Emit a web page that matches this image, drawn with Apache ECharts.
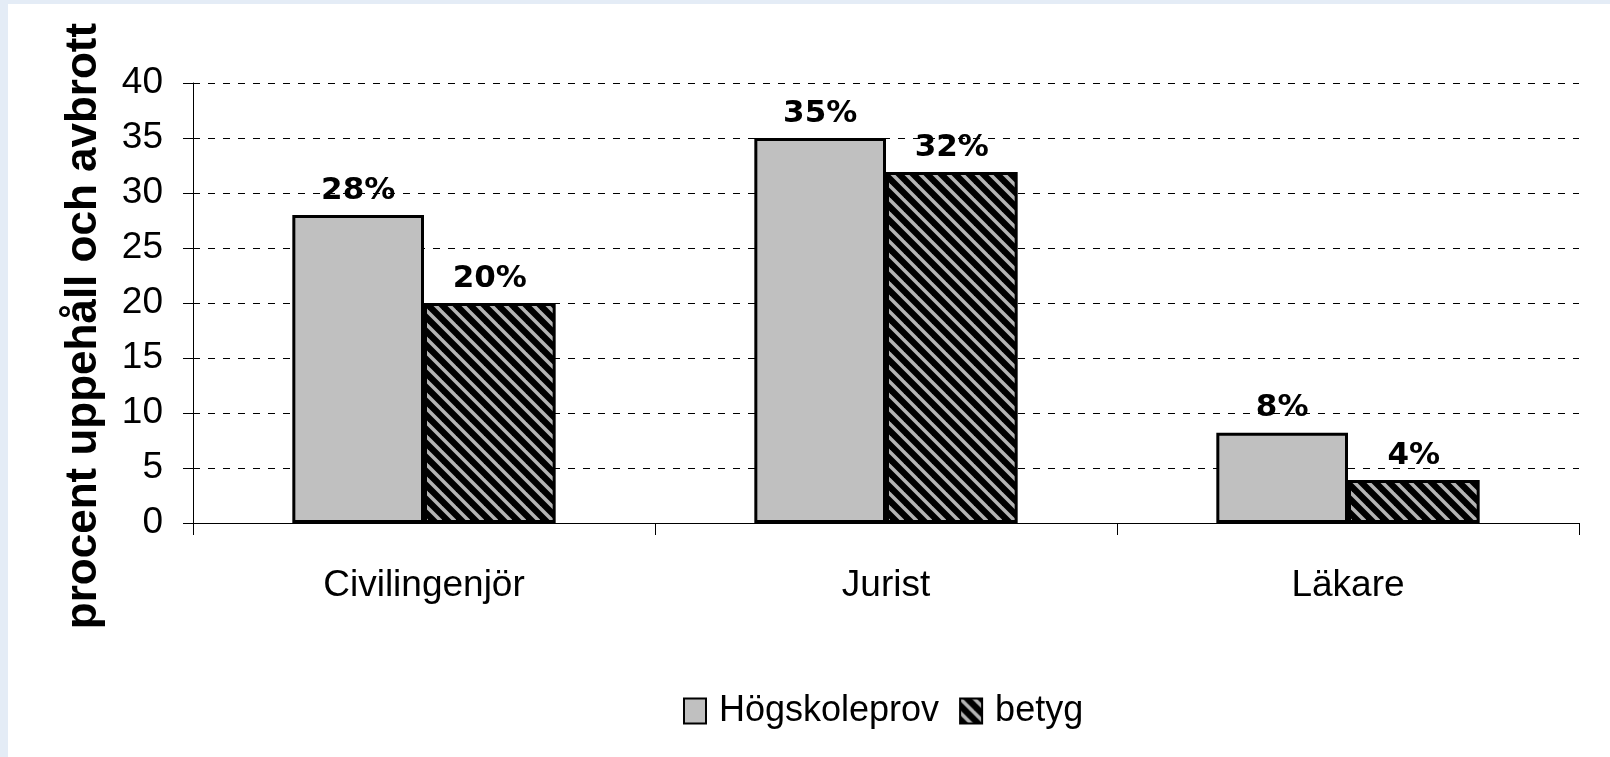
<!DOCTYPE html>
<html>
<head>
<meta charset="utf-8">
<script src="https://cdn.jsdelivr.net/npm/echarts@6/dist/echarts.min.js"></script>
<style>
    html, body {
        margin: 0;
        padding: 0;
        background: #e4ecf6;
        overflow: hidden;
    }
    #chart {
        position: absolute;
        left: 8px;
        top: 4px;
        width: 1602px;
        height: 753px;
        background: #fff;
    }
</style>
</head>
<body>
<div id="chart"></div>
<script>
const categories = ['Civilingenjör', 'Jurist', 'Läkare'];
const seriesNames = ['Högskoleprov', 'betyg'];
const hogskoleprov = [28, 35, 8.2];
const betyg = [20, 31.9, 3.9];
const labelsHogskoleprov = ['28%', '35%', '8%'];
const labelsBetyg = ['20%', '32%', '4%'];

// diagonal hatch tile, black with grey stripes
function makeHatch() {
    const s = 14;
    const c = document.createElement('canvas');
    c.width = s;
    c.height = s;
    const ctx = c.getContext('2d');
    ctx.fillStyle = '#000';
    ctx.fillRect(0, 0, s, s);
    ctx.strokeStyle = '#b4b4b4';
    ctx.lineWidth = 3.5;
    [-s, 0, s].forEach(x0 => {
        ctx.beginPath();
        ctx.moveTo(x0 - 2, -2);
        ctx.lineTo(x0 + s + 2, s + 2);
        ctx.stroke();
    });
    return c;
}

const chart = echarts.init(document.getElementById('chart'));

const dataLabel = (texts) => ({
    show: true,
    position: 'top',
    distance: 9,
    color: '#000',
    fontFamily: 'DejaVu Sans',
    fontWeight: 'bold',
    fontSize: 31,
    formatter: p => texts[p.dataIndex]
});

const option = {
    animation: false,
    backgroundColor: '#fff',
    textStyle: {
        fontFamily: 'Liberation Sans, Arial, sans-serif'
    },
    grid: {
        left: 185,
        right: 31,
        top: 79,
        bottom: 234
    },
    legend: {
        left: 670,
        top: 684,
        itemWidth: 22,
        itemHeight: 25,
        itemGap: 20,
        icon: 'rect',
        data: seriesNames,
        textStyle: {
            fontSize: 36,
            color: '#000',
            padding: [0, 0, 0, 8]
        }
    },
    xAxis: {
        type: 'category',
        data: categories,
        axisLine: {lineStyle: {color: '#000', width: 1}},
        axisTick: {show: true, length: 12, lineStyle: {color: '#000'}},
        axisLabel: {
            fontSize: 37,
            color: '#000',
            margin: 44
        }
    },
    yAxis: {
        type: 'value',
        min: 0,
        max: 40,
        interval: 5,
        name: 'procent uppehåll och avbrott',
        nameLocation: 'middle',
        nameGap: 87,
        nameTextStyle: {
            fontSize: 44,
            fontWeight: 'bold',
            color: '#000',
            padding: [0, 46, 0, 0]
        },
        axisLine: {show: true, lineStyle: {color: '#000', width: 1}},
        axisTick: {show: true, length: 10, lineStyle: {color: '#000'}},
        axisLabel: {
            fontSize: 37,
            color: '#000',
            margin: 30
        },
        splitLine: {
            show: true,
            lineStyle: {color: '#000', width: 1, type: [7, 8]}
        }
    },
    series: [
        {
            name: seriesNames[0],
            type: 'bar',
            barGap: '0%',
            barCategoryGap: '43%',
            data: hogskoleprov,
            itemStyle: {
                color: '#c0c0c0',
                borderColor: '#000',
                borderWidth: 3
            },
            label: dataLabel(labelsHogskoleprov)
        },
        {
            name: seriesNames[1],
            type: 'bar',
            data: betyg,
            itemStyle: {
                color: {image: makeHatch(), repeat: 'repeat'},
                borderColor: '#000',
                borderWidth: 3
            },
            label: dataLabel(labelsBetyg)
        }
    ]
};

chart.setOption(option);
</script>
</body>
</html>
